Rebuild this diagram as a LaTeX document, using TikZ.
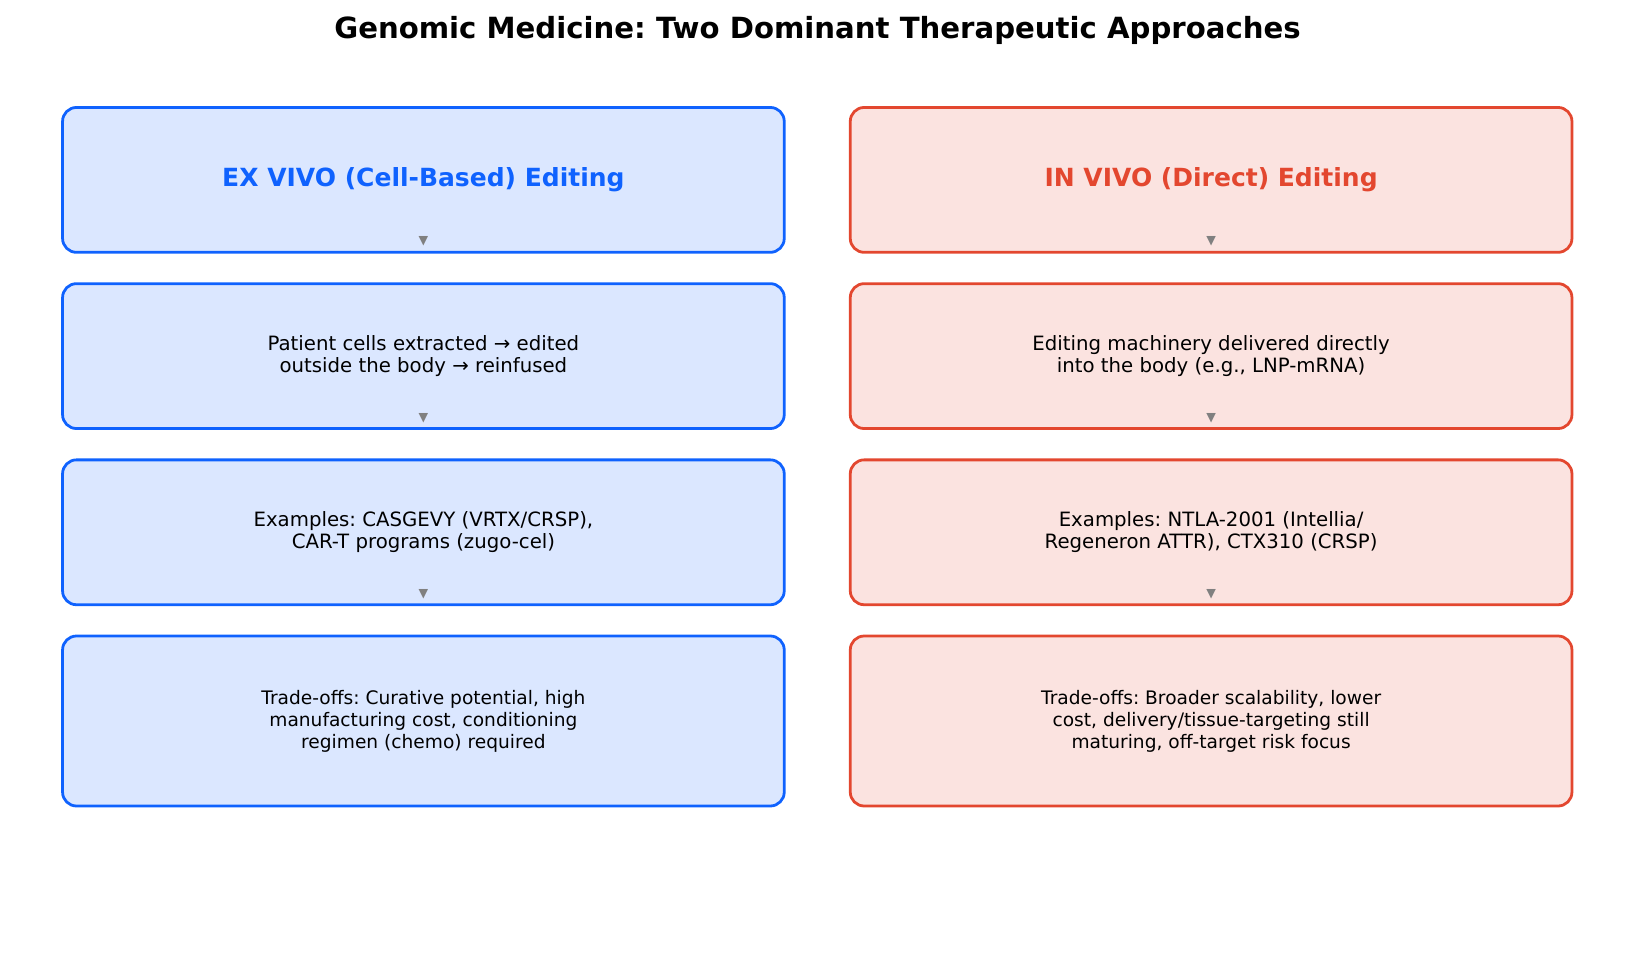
\documentclass[tikz,border=0pt]{standalone}
\usepackage{fontspec}
\setmainfont{DejaVu Sans}
\frenchspacing
\definecolor{exblue}{HTML}{0F62FE}
\definecolor{invred}{HTML}{E3472F}
\definecolor{markgray}{HTML}{808080}
\tikzset{
  stage/.style={rounded corners=10pt, line width=2pt, minimum width=519.6pt,
    minimum height=104.3pt, align=center, inner sep=0pt},
  exstage/.style={stage, draw=exblue, fill=exblue!15},
  invstage/.style={stage, draw=invred, fill=invred!15},
  heading/.style={font=\fontsize{18}{21}\selectfont\bfseries},
  body/.style={font=\fontsize{14.2}{15.8}\selectfont},
  tradeoff/.style={font=\fontsize{13.4}{15.8}\selectfont, minimum height=122.4pt},
  marker/.style={text=markgray, font=\fontsize{9}{10}\selectfont, inner sep=0pt}
}
\begin{document}
\begin{tikzpicture}[x=0.72pt, y=-0.72pt]
  \useasboundingbox (0,0) rectangle (1635,962);
  \node[font=\fontsize{21}{25}\selectfont\bfseries] (title) at (817.5,30) {Genomic Medicine: Two Dominant Therapeutic Approaches};

  \node[exstage, heading, text=exblue] (ex1) at (423.4,179.9) {EX VIVO (Cell-Based) Editing};
  \node[exstage, body] (ex2) at (423.4,356.1) {Patient cells extracted → edited\\outside the body → reinfused};
  \node[exstage, body] (ex3) at (423.4,532.3) {Examples: CASGEVY (VRTX/CRSP),\\CAR-T programs (zugo-cel)};
  \node[exstage, tradeoff] (ex4) at (423.4,721) {Trade-offs: Curative potential, high\\manufacturing cost, conditioning\\regimen (chemo) required};

  \node[invstage, heading, text=invred] (in1) at (1211.1,179.9) {IN VIVO (Direct) Editing};
  \node[invstage, body] (in2) at (1211.1,356.1) {Editing machinery delivered directly\\into the body (e.g., LNP-mRNA)};
  \node[invstage, body] (in3) at (1211.1,532.3) {Examples: NTLA-2001 (Intellia/\\Regeneron ATTR), CTX310 (CRSP)};
  \node[invstage, tradeoff] (in4) at (1211.1,721) {Trade-offs: Broader scalability, lower\\cost, delivery/tissue-targeting still\\maturing, off-target risk focus};

  \foreach \n in {ex1,ex2,ex3,in1,in2,in3}
    \node[marker, above=5pt] at (\n.south) {▼};
\end{tikzpicture}
\end{document}
